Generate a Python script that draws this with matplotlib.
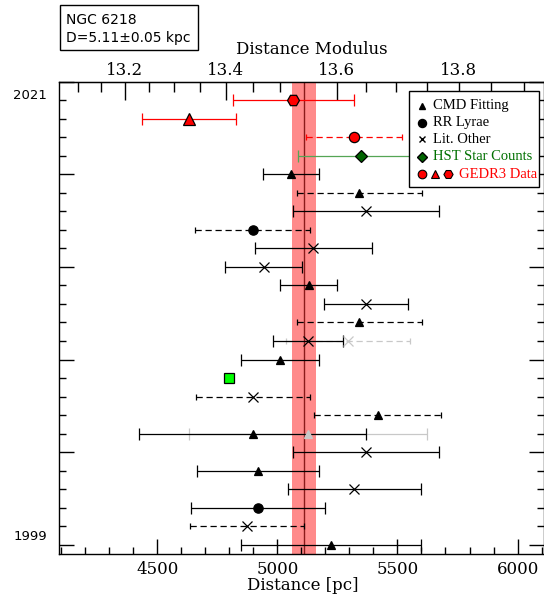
import numpy as np
import matplotlib
matplotlib.use('Agg')
import matplotlib.pyplot as plt
from matplotlib.ticker import MultipleLocator, FixedLocator, FormatStrFormatter, NullFormatter
from matplotlib.patches import Rectangle

# ---- data: one row per study, most recent (top) to oldest (bottom) ----
distance = [5067, 4632, 5318, 5350, 5057, 5342, 5369, 4897, 5150, 4943,
            5130, 5369, 5342, 5128, 5012, 4800, 4898, 5417, 4898, 5369,
            4920, 5321, 4920, 4872, 5223]
distance_err = [253, 194, 200, 262, 117, 260, 305, 238, 243, 161,
                120, 175, 261, 144, 163, 0, 238, 263, 472, 305,
                254, 278, 279, 237, 374]
method = ['gedr3_hex', 'gedr3_tri', 'gedr3_circ', 'hst', 'cmd', 'cmd', 'lit', 'rr', 'lit', 'lit',
          'cmd', 'lit', 'cmd', 'lit', 'cmd', 'other', 'lit', 'cmd', 'cmd', 'lit',
          'cmd', 'lit', 'rr', 'lit', 'cmd']
dashed = [False, False, True, False, False, True, False, True, False, False,
          False, False, True, False, False, False, True, True, False, False,
          False, False, False, True, False]

# secondary (light gray) estimates attached to some rows
alt_row = [13, 18]
alt_distance = [5295, 5128]
alt_err = [257, 494]
alt_method = ['lit', 'cmd']
alt_dashed = [True, False]

D_best = 5110
D_best_err = 50
year_top, year_bottom = '2021', '1999'

legend_labels = ['CMD Fitting', 'RR Lyrae', 'Lit. Other', 'HST Star Counts', 'GEDR3 Data']

# ---- styles ----
styles = {
    'gedr3_hex': dict(marker='H', mfc='red', mec='black', ms=8.6, ec='red'),
    'gedr3_tri': dict(marker='^', mfc='red', mec='black', ms=8.4, ec='red'),
    'gedr3_circ': dict(marker='o', mfc='red', mec='black', ms=7.4, ec='red'),
    'hst': dict(marker='D', mfc='#006400', mec='black', ms=6.2, ec='#55a555'),
    'cmd': dict(marker='^', mfc='black', mec='black', ms=6.3, ec='black'),
    'rr': dict(marker='o', mfc='black', mec='black', ms=6.7, ec='black'),
    'lit': dict(marker='x', mfc='black', mec='black', ms=6.5, ec='black'),
    'other': dict(marker='s', mfc='#00ff00', mec='black', ms=7.0, ec='black'),
}
gray = '#c8c8c8'
serif = 'DejaVu Serif'
legfont = 'Liberation Serif'

fig = plt.figure(figsize=(5.44, 6.01), dpi=100)
ax = fig.add_axes([0.1079, 0.0782, 0.8912, 0.7859])

n = len(distance)
ypos = np.arange(n)[::-1]

# best-distance band
ax.axvspan(D_best - D_best_err, D_best + D_best_err, color='#ff8a8a', lw=0, zorder=1)
ax.axvline(D_best, color='#8b1a1a', lw=1.0, zorder=2)


def draw(d, y, e, m, dsh, color=None, z=3):
    st = styles[m]
    ec = color if color else st['ec']
    if e > 0:
        eb = ax.errorbar([d], [y], xerr=[e], fmt='none', ecolor=ec, elinewidth=0.9,
                         capsize=2.3 if dsh else 4, capthick=0.9, zorder=z)
        if dsh:
            eb[2][0].set_linestyle((0, (5, 3)))
    mfc = color if color else st['mfc']
    mec = color if color else st['mec']
    ax.plot([d], [y], ls='none', marker=st['marker'], mfc=mfc, mec=mec,
            ms=st['ms'], mew=0.9, zorder=z + 1)


for r, d, e, m, dsh in zip(alt_row, alt_distance, alt_err, alt_method, alt_dashed):
    draw(d, ypos[r], e, m, dsh, color=gray, z=2.5)

for i in range(n):
    draw(distance[i], ypos[i], distance_err[i], method[i], dashed[i])

# axes limits / ticks
ax.set_xlim(4090, 6108)
ax.set_ylim(-0.5, 25)
ax.xaxis.set_major_locator(MultipleLocator(500))
ax.xaxis.set_minor_locator(MultipleLocator(100))
ax.yaxis.set_major_locator(MultipleLocator(5))
ax.yaxis.set_minor_locator(MultipleLocator(1))
ax.yaxis.set_major_formatter(NullFormatter())
ax.tick_params(which='both', direction='in', left=True, right=True, top=False, bottom=True, width=1)
ax.tick_params(which='major', length=11, labelsize=12, pad=5)
ax.tick_params(which='minor', length=5)
for lab in ax.get_xticklabels():
    lab.set_fontfamily(serif)
for sp in ax.spines.values():
    sp.set_linewidth(1.0)


def d2mu(d):
    d = np.asarray(d, dtype=float)
    return 5 * np.log10(np.clip(d, 1e-6, None)) - 5


def mu2d(mu):
    return 10 ** ((np.asarray(mu, dtype=float) + 5) / 5)


sec = ax.secondary_xaxis('top', functions=(d2mu, mu2d))
sec.xaxis.set_major_locator(FixedLocator([13.2, 13.4, 13.6, 13.8]))
sec.xaxis.set_minor_locator(MultipleLocator(0.05))
sec.xaxis.set_major_formatter(FormatStrFormatter('%.1f'))
sec.tick_params(which='both', direction='in', width=1)
sec.tick_params(which='major', length=13, labelsize=12, pad=2)
sec.tick_params(which='minor', length=7)
for lab in sec.get_xticklabels():
    lab.set_fontfamily(serif)

# axis titles
fig.text(303 / 544, 1 - 586 / 601, 'Distance [pc]', ha='center', va='center',
         fontsize=12, family=serif)
fig.text(312 / 544, 1 - 49 / 601, 'Distance Modulus', ha='center', va='center',
         fontsize=12, family=serif)

# year annotations
ax.text(-0.024, 24.25, year_top, transform=ax.get_yaxis_transform(), ha='right',
        va='center', fontsize=9.5, family='DejaVu Sans')
ax.text(-0.024, 0.47, year_bottom, transform=ax.get_yaxis_transform(), ha='right',
        va='center', fontsize=9.5, family='DejaVu Sans')

# legend (manual)
T = ax.transAxes
ax.add_patch(Rectangle((0.7226, 0.776), 0.2681, 0.205, transform=T, facecolor='white',
                       edgecolor='black', lw=1.0, zorder=8, clip_on=False))
ly = [0.949, 0.913, 0.878, 0.841, 0.804]
mx = 0.749
leg_markers = [('^', 'black', 'black', 4.8), ('o', 'black', 'black', 5.8),
               ('x', 'black', 'black', 4.5), ('D', '#006400', 'black', 4.6)]
leg_colors = ['black', 'black', 'black', '#007000']
for k in range(4):
    mk, fc, ecc, ms = leg_markers[k]
    ax.plot([mx], [ly[k]], transform=T, ls='none', marker=mk, mfc=fc, mec=ecc, ms=ms,
            mew=1.0, zorder=9, clip_on=False)
    ax.text(0.773, ly[k], legend_labels[k], transform=T, ha='left', va='center',
            fontsize=10.5, family=legfont, color=leg_colors[k], zorder=9)
for xx, mk, ms in [(0.749, 'o', 6.2), (0.776, '^', 5.6), (0.803, 'H', 6.6)]:
    ax.plot([xx], [ly[4]], transform=T, ls='none', marker=mk, mfc='red', mec='black',
            ms=ms, mew=0.8, zorder=9, clip_on=False)
ax.text(0.826, ly[4], legend_labels[4], transform=T, ha='left', va='center',
        fontsize=10.5, family=legfont, color='red', zorder=9)

# info box
fig.patches.append(Rectangle((60 / 544, 1 - 50 / 601), 138 / 544, 45 / 601,
                             transform=fig.transFigure, facecolor='white',
                             edgecolor='black', lw=1.0))
fig.text(66 / 544, 1 - 20 / 601, 'NGC 6218', ha='left', va='center', fontsize=10,
         family='DejaVu Sans')
fig.text(66 / 544, 1 - 38 / 601, 'D=5.11±0.05 kpc', ha='left', va='center', fontsize=10,
         family='DejaVu Sans')

fig.savefig('out.png', dpi=100)
